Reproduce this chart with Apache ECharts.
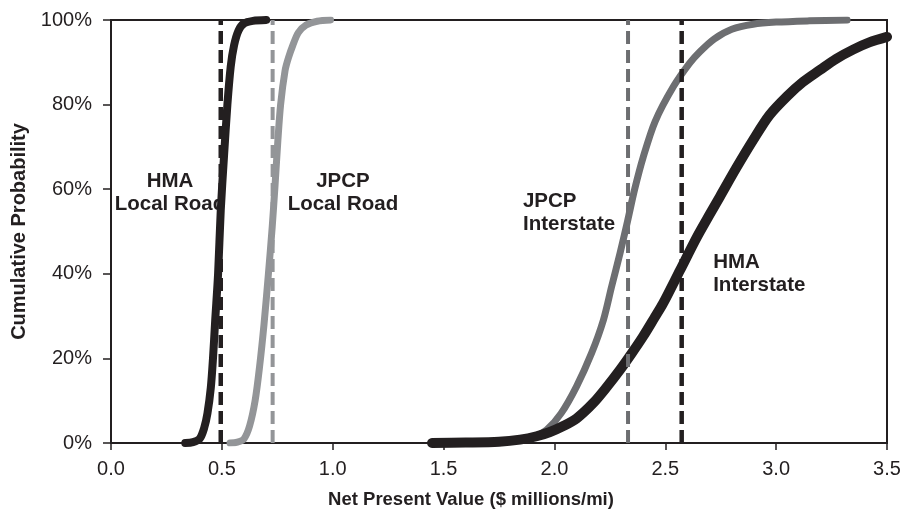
<!DOCTYPE html>
<html><head><meta charset="utf-8">
<script src="https://cdn.jsdelivr.net/npm/echarts@6/dist/echarts.min.js"></script>
<style>html,body{margin:0;padding:0;background:#fff}#c{width:902px;height:510px}</style>
</head><body><div id="c"></div>
<script>
// Cumulative probability curves: [NPV ($M/mi), cumulative %]
const hmaLocal = [[0.335,0],[0.37,0.2],[0.40,1],[0.42,3.5],[0.435,7],[0.45,13],[0.46,20],[0.47,29],[0.483,40],[0.495,55],[0.51,68],[0.525,80],[0.54,89],[0.555,94],[0.575,97.5],[0.60,99.2],[0.64,99.8],[0.70,100]];
const jpcpLocal = [[0.537,0],[0.57,0.2],[0.60,1],[0.625,4],[0.65,10],[0.67,18],[0.69,28],[0.71,40],[0.727,51],[0.74,61],[0.752,71],[0.765,80],[0.785,88],[0.80,91],[0.82,94],[0.845,97],[0.88,98.8],[0.93,99.7],[0.99,100]];
const jpcpInter = [[1.448,0],[1.6,0.1],[1.75,0.3],[1.845,0.8],[1.91,1.5],[1.965,3.1],[2.03,7],[2.10,13.4],[2.168,21.3],[2.221,29.1],[2.258,37],[2.296,44.9],[2.33,52.5],[2.362,60],[2.40,67.5],[2.454,76],[2.536,84.2],[2.61,89.8],[2.656,92.5],[2.72,95.5],[2.80,97.8],[2.896,99],[3.0,99.5],[3.15,99.8],[3.32,100]];
const hmaInter = [[1.448,0],[1.6,0.1],[1.75,0.3],[1.845,0.8],[1.92,1.6],[1.98,2.6],[2.04,4],[2.10,5.8],[2.176,9.5],[2.24,13.5],[2.296,17.3],[2.35,21.3],[2.40,25.2],[2.45,29.5],[2.49,33],[2.567,40.9],[2.642,48.6],[2.70,54],[2.747,58.3],[2.82,65],[2.896,71.6],[2.97,77.5],[3.05,82],[3.12,85.3],[3.198,88.2],[3.27,90.8],[3.347,93],[3.42,94.7],[3.5,96]];
// Mean (deterministic) values shown as dashed verticals
const meanHmaLocal = 0.495, meanJpcpLocal = 0.729, meanJpcpInter = 2.332, meanHmaInter = 2.574;
// Annotation labels: [x, y%, text, align]
const labels = [
  [0.266, 59.2, 'HMA\nLocal Road', 'center'],
  [1.046, 59.2, 'JPCP\nLocal Road', 'center'],
  [1.858, 54.5, 'JPCP\nInterstate', 'left'],
  [2.716, 40.0, 'HMA\nInterstate', 'left']
];

const BLACK='#231f20', LGRAY='#939598', DGRAY='#6d6e71';
const FONT='"Liberation Sans", Arial, sans-serif';
function vline(x){ return [[x,0],[x,100]]; }
function curve(name,data,color,w){
  return {name,type:'line',data,smooth:0.3,symbol:'none',z:3,lineStyle:{color,width:w,cap:'round',join:'round'}};
}
function dash(name,x,color,w){
  return {name,type:'line',data:vline(x),symbol:'none',z:4,lineStyle:{color,width:w,type:[13,6]}};
}
const chart = echarts.init(document.getElementById('c'),null,{renderer:'canvas'});
chart.setOption({
  animation:false,
  grid:{left:111,right:15,top:20,bottom:67,outerBoundsMode:'none',containLabel:false,show:true,borderColor:BLACK,borderWidth:2,backgroundColor:'transparent'},
  xAxis:{type:'value',min:0,max:3.5,interval:0.5,
    name:'Net Present Value ($ millions/mi)',nameLocation:'middle',nameGap:47,
    nameTextStyle:{fontFamily:FONT,fontWeight:'bold',fontSize:18.5,color:BLACK,padding:[0,56,0,0]},
    axisLine:{lineStyle:{color:BLACK,width:2}},axisTick:{length:7,lineStyle:{color:BLACK,width:1.5}},
    axisLabel:{fontFamily:FONT,fontSize:20,color:BLACK,margin:16,formatter:v=>v.toFixed(1)},
    splitLine:{show:false}},
  yAxis:{type:'value',min:0,max:100,interval:20,
    name:'Cumulative Probability',nameLocation:'middle',nameGap:82,
    nameTextStyle:{fontFamily:FONT,fontWeight:'bold',fontSize:20,color:BLACK},
    axisLine:{show:true,lineStyle:{color:BLACK,width:2}},axisTick:{show:true,length:8,lineStyle:{color:BLACK,width:1.5}},
    axisLabel:{fontFamily:FONT,fontSize:20,color:BLACK,margin:19,formatter:v=>v+'%'},
    splitLine:{show:false}},
  series:[
    {name:'labels',type:'scatter',symbolSize:0,z:2,silent:true,itemStyle:{opacity:1},
      data:labels.map(l=>({value:[l[0],l[1]],label:{formatter:l[2],align:l[3]}})),
      label:{show:true,position:'inside',fontFamily:FONT,fontWeight:'bold',fontSize:20.5,color:BLACK,opacity:1,lineHeight:23}},
    curve('HMA Local Road',hmaLocal,BLACK,8),
    curve('JPCP Local Road',jpcpLocal,LGRAY,7),
    curve('JPCP Interstate',jpcpInter,DGRAY,7),
    curve('HMA Interstate',hmaInter,BLACK,10),
    dash('HMA Local mean',meanHmaLocal,BLACK,4.5),
    dash('JPCP Local mean',meanJpcpLocal,LGRAY,4),
    dash('JPCP Interstate mean',meanJpcpInter,DGRAY,4),
    dash('HMA Interstate mean',meanHmaInter,BLACK,4.5)
  ]
});
</script></body></html>
